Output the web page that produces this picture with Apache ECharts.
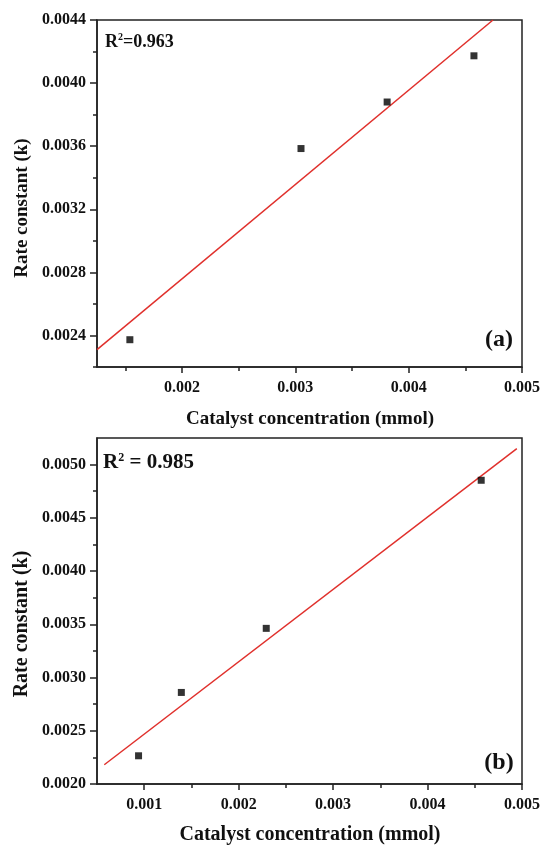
<!DOCTYPE html>
<html>
<head>
<meta charset="utf-8">
<script src="https://cdn.jsdelivr.net/npm/echarts@6/dist/echarts.min.js"></script>
<style>
  html, body { margin: 0; padding: 0; background: #fff; }
  #chart { width: 543px; height: 845px; }
</style>
</head>
<body>
<div id="chart"></div>
<script>
// Panel (a): rate constant vs catalyst concentration
const concA = [0.00154, 0.00305, 0.00381, 0.004576];
const rateA = [0.002373, 0.003585, 0.00388, 0.004173];
const fitA = [[0.00125, 0.00231], [0.004744, 0.0044]];
const xMajorA = [0.002, 0.003, 0.004, 0.005];
const xMinorA = [0.0015, 0.0025, 0.0035, 0.0045];
const yMajorA = [0.0024, 0.0028, 0.0032, 0.0036, 0.0040, 0.0044];
const yMinorA = [0.0022, 0.0026, 0.0030, 0.0034, 0.0038, 0.0042];

// Panel (b)
const concB = [0.00094, 0.001393, 0.002292, 0.004568];
const rateB = [0.002265, 0.00286, 0.003462, 0.004853];
const fitB = [[0.000577, 0.002181], [0.004945, 0.00515]];
const xMajorB = [0.001, 0.002, 0.003, 0.004, 0.005];
const xMinorB = [0.0015, 0.0025, 0.0035, 0.0045];
const yMajorB = [0.0020, 0.0025, 0.0030, 0.0035, 0.0040, 0.0045, 0.0050];
const yMinorB = [0.00225, 0.00275, 0.00325, 0.00375, 0.00425, 0.00475];

const FONT = "'Liberation Serif', 'Times New Roman', serif";
const INK = '#111';
const AXIS = '#222';

function pairs(xs, ys) { return xs.map((x, i) => [x, ys[i]]); }

function xAxes(grid, min, max, major, minor) {
  return [
    {
      type: 'value', gridIndex: grid, min: min, max: max, position: 'bottom',
      splitLine: { show: false },
      axisLine: { show: true, lineStyle: { color: AXIS, width: 1.5 } },
      axisTick: { show: true, inside: false, length: 6, customValues: major,
                  lineStyle: { color: AXIS, width: 1.5 } },
      axisLabel: { show: true, customValues: major, margin: 13,
                   formatter: v => v.toFixed(3),
                   fontFamily: FONT, fontWeight: 'bold', fontSize: 16, color: INK }
    },
    {
      type: 'value', gridIndex: grid, min: min, max: max, position: 'bottom',
      splitLine: { show: false },
      axisLine: { show: false },
      axisTick: { show: true, inside: false, length: 4, customValues: minor,
                  lineStyle: { color: AXIS, width: 1.5 } },
      axisLabel: { show: false }
    }
  ];
}

function yAxes(grid, min, max, major, minor) {
  return [
    {
      type: 'value', gridIndex: grid, min: min, max: max, position: 'left',
      splitLine: { show: false },
      axisLine: { show: true, lineStyle: { color: AXIS, width: 1.5 } },
      axisTick: { show: true, inside: false, length: 7, customValues: major,
                  lineStyle: { color: AXIS, width: 1.5 } },
      axisLabel: { show: true, customValues: major, margin: 11,
                   formatter: v => v.toFixed(4),
                   fontFamily: FONT, fontWeight: 'bold', fontSize: 16, color: INK }
    },
    {
      type: 'value', gridIndex: grid, min: min, max: max, position: 'left',
      splitLine: { show: false },
      axisLine: { show: false },
      axisTick: { show: true, inside: false, length: 4, customValues: minor,
                  lineStyle: { color: AXIS, width: 1.5 } },
      axisLabel: { show: false }
    }
  ];
}

function text(x, y, content, size, rotate, align) {
  return {
    type: 'text', x: x, y: y, rotation: rotate || 0,
    style: { text: content, fontFamily: FONT, fontWeight: 'bold', fontSize: size,
             fill: INK, align: align || 'center', verticalAlign: 'middle' }
  };
}

function r2(x, y, value, size, spaced) {
  const eq = spaced ? ' = ' : '=';
  return {
    type: 'text', x: x, y: y,
    style: {
      text: '{b|R}{s|2}{b|' + eq + value + '}',
      align: 'left', verticalAlign: 'middle',
      rich: {
        b: { fontFamily: FONT, fontWeight: 'bold', fontSize: size, fill: INK, lineHeight: size + 2 },
        s: { fontFamily: FONT, fontWeight: 'bold', fontSize: Math.round(size * 0.55), fill: INK,
             verticalAlign: 'top', lineHeight: size + 2, padding: [0, 0, Math.round(size * 0.45), 0] }
      }
    }
  };
}

const markerStyle = { color: '#000' };
const lineStyle = { color: '#e0302c', width: 1.5 };

const chart = echarts.init(document.getElementById('chart'), null, { renderer: 'canvas' });
chart.setOption({
  animation: false,
  backgroundColor: '#fff',
  grid: [
    { left: 97, right: 21, top: 20, height: 347, show: true, borderColor: AXIS, borderWidth: 1.5,
      backgroundColor: 'transparent' },
    { left: 97, right: 21, top: 438, height: 346, show: true, borderColor: AXIS, borderWidth: 1.5,
      backgroundColor: 'transparent' }
  ],
  xAxis: [].concat(
    xAxes(0, 0.00125, 0.005, xMajorA, xMinorA),
    xAxes(1, 0.0005, 0.005, xMajorB, xMinorB)
  ),
  yAxis: [].concat(
    yAxes(0, 0.0022, 0.0044, yMajorA, yMinorA),
    yAxes(1, 0.0020, 0.00525, yMajorB, yMinorB)
  ),
  series: [
    { type: 'line', xAxisIndex: 0, yAxisIndex: 0, data: fitA, showSymbol: false,
      lineStyle: lineStyle, clip: true, z: 2 },
    { type: 'scatter', xAxisIndex: 0, yAxisIndex: 0, data: pairs(concA, rateA),
      symbol: 'rect', symbolSize: 7, itemStyle: markerStyle, z: 3 },
    { type: 'line', xAxisIndex: 2, yAxisIndex: 2, data: fitB, showSymbol: false,
      lineStyle: lineStyle, clip: true, z: 2 },
    { type: 'scatter', xAxisIndex: 2, yAxisIndex: 2, data: pairs(concB, rateB),
      symbol: 'rect', symbolSize: 7, itemStyle: markerStyle, z: 3 }
  ],
  graphic: [
    text(310, 419, 'Catalyst concentration (mmol)', 19),
    text(310, 835, 'Catalyst concentration (mmol)', 20),
    text(22, 208, 'Rate constant (k)', 19, Math.PI / 2),
    text(22, 624, 'Rate constant (k)', 20, Math.PI / 2),
    r2(105, 42, '0.963', 18, false),
    r2(103, 463, '0.985', 21, true),
    text(499, 340, '(a)', 24),
    text(499, 763, '(b)', 24)
  ]
});
</script>
</body>
</html>
